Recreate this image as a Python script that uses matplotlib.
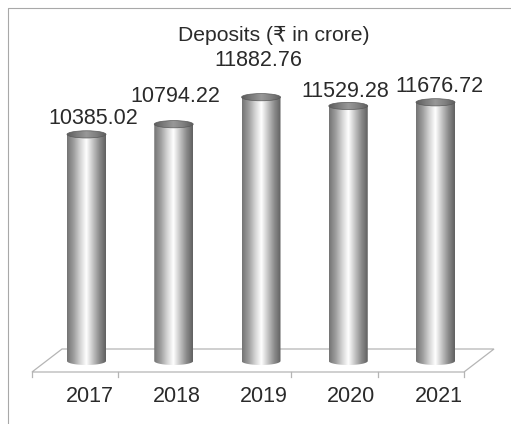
import numpy as np
import matplotlib
matplotlib.use('Agg')
import matplotlib.pyplot as plt
from matplotlib.patches import Ellipse, Polygon, PathPatch
from matplotlib.path import Path
from matplotlib.colors import LinearSegmentedColormap
from matplotlib.lines import Line2D

# Data
years = ['2017', '2018', '2019', '2020', '2021']
deposits = [10385.02, 10794.22, 11882.76, 11529.28, 11676.72]
title = 'Deposits (₹ in crore)'

# value label offsets (pixels) from the top of each cylinder
label_dx = [7, 2, -3, -3, 4]
label_dy = [10, 22, 31, 9, 10]

plt.rcParams['font.family'] = ['Liberation Sans', 'DejaVu Sans']
text_color = '#2a2a2a'

fig = plt.figure(figsize=(5.11, 4.24), dpi=100)
ax = fig.add_axes([0, 0, 1, 1])
ax.axis('off')

# scale of the plot: pixels per category and per crore
ux = 1 / 87.25
uy = 1 / 0.02483
base = 1258

# floor (flat 3d plane)
front_y = base - 11 * uy
back_y = base + 12 * uy
x0, x1 = -54.5 * ux, 377.5 * ux
depth = 30 * ux
floor = Polygon([(x0, front_y), (x1, front_y), (x1 + depth, back_y), (x0 + depth, back_y)],
                closed=True, facecolor='white', edgecolor='#b5b5b5', lw=0.9, zorder=1)
ax.add_patch(floor)
step = (x1 - x0) / len(years)
for j in [0, 1, 3, 4, 5]:
    ax.plot([x0 + j * step] * 2, [front_y, front_y - 5 * uy], color='#b5b5b5', lw=0.9, zorder=1)

# cylinders
w = 39 * ux
eh = 4 * uy
body_cmap = LinearSegmentedColormap.from_list(
    'body', ['#747474', '#9c9c9c', '#d2d2d2', '#ffffff', '#c4c4c4', '#8c8c8c', '#606060'])
top_cmap = LinearSegmentedColormap.from_list(
    'top', ['#5c5c5c', '#7c7c7c', '#989898', '#808080', '#5e5e5e'])
grad = np.linspace(0, 1, 256).reshape(1, -1)
t = np.linspace(np.pi, 2 * np.pi, 60)

for i, v in enumerate(deposits):
    left, right = i - w / 2, i + w / 2
    arc = np.column_stack([i + w / 2 * np.cos(t), base + eh * np.sin(t)])
    verts = np.vstack([[left, v], arc, [right, v], [left, v]])
    clip = PathPatch(Path(verts), facecolor='none', edgecolor='none')
    ax.add_patch(clip)
    im = ax.imshow(grad, cmap=body_cmap, extent=[left, right, base - eh, v],
                   aspect='auto', interpolation='bilinear', zorder=2)
    im.set_clip_path(clip)

    top = Ellipse((i, v), w, 1.8 * eh, facecolor='none', edgecolor='#5a5a5a', lw=0.5, zorder=4)
    ax.add_patch(top)
    im2 = ax.imshow(grad, cmap=top_cmap, extent=[left, right, v - eh, v + eh],
                    aspect='auto', interpolation='bilinear', zorder=3)
    im2.set_clip_path(top)

    ax.annotate(f'{v:.2f}', (i, v), xytext=(label_dx[i], label_dy[i]), textcoords='offset pixels',
                ha='center', va='baseline', fontsize=15.5, color=text_color)
    ax.annotate(years[i], (i, front_y), xytext=(3, -30), textcoords='offset pixels',
                ha='center', va='baseline', fontsize=15.5, color=text_color)

ax.set_xlim(-86.5 * ux, (511 - 86.5) * ux)
ax.set_ylim(base - 63 * uy, base + 361 * uy)

fig.text(274 / 511, 1 - 40.7 / 424, title, ha='center', va='baseline', fontsize=15.2, color=text_color)

# chart frame (only top and left visible)
fig.add_artist(Line2D([7.5 / 511, 7.5 / 511, 1], [0, 1 - 7.5 / 424, 1 - 7.5 / 424],
                      transform=fig.transFigure, color='#a8a8a8', lw=0.8))

fig.savefig('out.png', dpi=100)
